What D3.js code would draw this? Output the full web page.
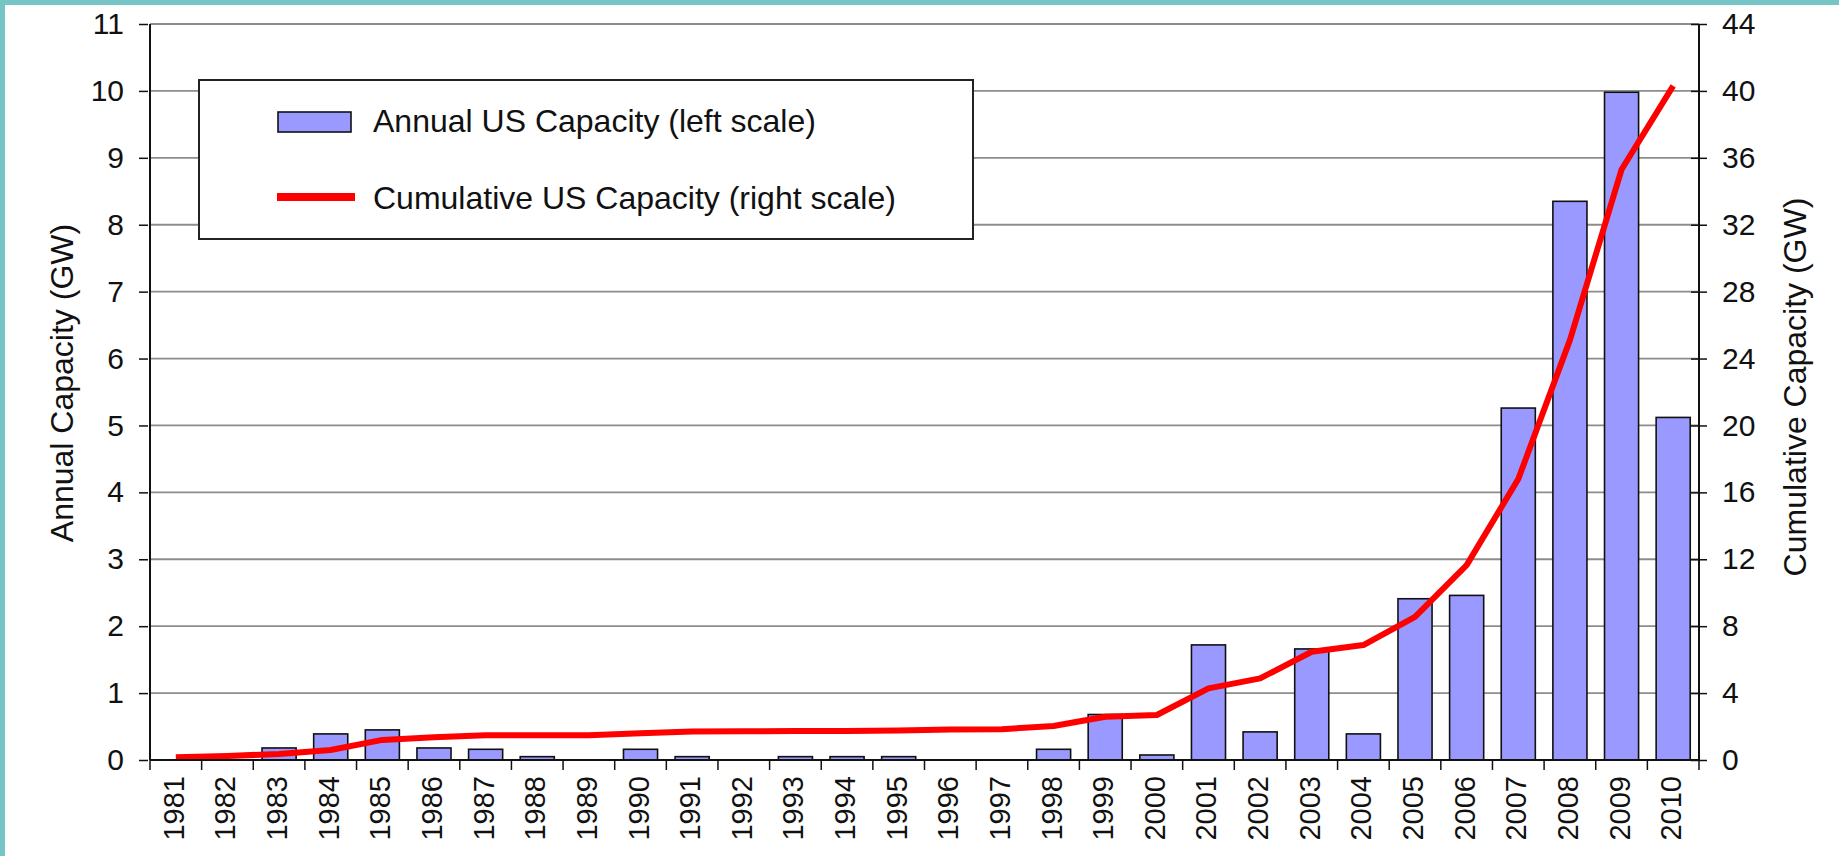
<!DOCTYPE html>
<html>
<head>
<meta charset="utf-8">
<script src="https://cdn.jsdelivr.net/npm/d3@7"></script>
<style>
  html, body { margin: 0; padding: 0; background: #fff; }
  svg { display: block; font-family: "Liberation Sans", Arial, sans-serif; }
</style>
</head>
<body>
<svg></svg>
<script>
var width = 1839;
var height = 856;

// data
var years = ['1981', '1982', '1983', '1984', '1985', '1986', '1987', '1988', '1989', '1990',
             '1991', '1992', '1993', '1994', '1995', '1996', '1997', '1998', '1999', '2000',
             '2001', '2002', '2003', '2004', '2005', '2006', '2007', '2008', '2009', '2010'];
var annual = [0, 0, 0.18, 0.39, 0.45, 0.18, 0.16, 0.05, 0, 0.16,
              0.05, 0, 0.05, 0.05, 0.05, 0, 0, 0.16, 0.68, 0.075,
              1.72, 0.42, 1.66, 0.39, 2.41, 2.46, 5.26, 8.35, 9.98, 5.12];
var cumulative = [0.16, 0.24, 0.36, 0.6, 1.2, 1.36, 1.48, 1.48, 1.48, 1.6,
                  1.7, 1.72, 1.73, 1.74, 1.76, 1.82, 1.84, 2.03, 2.59, 2.69,
                  4.28, 4.88, 6.47, 6.87, 8.56, 11.65, 16.8, 25.1, 35.3, 40.3];
var leftTicks = [0, 1, 2, 3, 4, 5, 6, 7, 8, 9, 10, 11];
var rightTicks = [0, 4, 8, 12, 16, 20, 24, 28, 32, 36, 40, 44];
var legendLabels = ['Annual US Capacity (left scale)', 'Cumulative US Capacity (right scale)'];

var rows = years.map((y, i) => ({year: y, annual: annual[i], cum: cumulative[i]}));

var plotLeft = 150, plotRight = 1699, plotTop = 24, plotBottom = 760;

var x = d3.scaleBand()
          .domain(years)
          .range([plotLeft, plotRight])
          .paddingInner(0.34)
          .paddingOuter(0.17);
var yLeft = d3.scaleLinear().domain([0, 11]).range([plotBottom, plotTop]);
var yRight = d3.scaleLinear().domain([0, 44]).range([plotBottom, plotTop]);

var svg = d3.select('svg')
            .attr('width', width)
            .attr('height', height);

svg.append('rect').attr('width', width).attr('height', height).attr('fill', '#fff');

// teal frame on top and left
svg.append('rect').attr('x', 0).attr('y', 0).attr('width', width).attr('height', 5).attr('fill', '#76c5c6');
svg.append('rect').attr('x', 0).attr('y', 0).attr('width', 5).attr('height', height).attr('fill', '#76c5c6');

// gridlines
svg.append('g')
    .selectAll('line')
    .data(leftTicks.filter(d => d > 0))
    .enter()
    .append('line')
        .attr('x1', plotLeft)
        .attr('x2', plotRight)
        .attr('y1', d => yLeft(d))
        .attr('y2', d => yLeft(d))
        .attr('stroke', '#8c8c8c')
        .attr('stroke-width', 1.8);

// bars
svg.append('g')
    .selectAll('rect')
    .data(rows.filter(d => d.annual > 0))
    .enter()
    .append('rect')
        .attr('x', d => x(d.year))
        .attr('width', x.bandwidth())
        .attr('y', d => yLeft(d.annual))
        .attr('height', d => yLeft(0) - yLeft(d.annual))
        .attr('fill', '#9999ff')
        .attr('stroke', '#111')
        .attr('stroke-width', 1.6);

// cumulative line
var line = d3.line()
             .x(d => x(d.year) + x.bandwidth() / 2)
             .y(d => yRight(d.cum));
svg.append('path')
    .datum(rows)
    .attr('d', line)
    .attr('fill', 'none')
    .attr('stroke', '#ff0000')
    .attr('stroke-width', 6)
    .attr('stroke-linejoin', 'round');

// left axis
var leftAxis = svg.append('g')
    .attr('transform', `translate(${plotLeft},0)`)
    .call(d3.axisLeft(yLeft).tickValues(leftTicks).tickSize(10).tickPadding(16));
leftAxis.select('.domain').attr('stroke', '#111').attr('stroke-width', 2).attr('d', `M0,${plotTop}V${plotBottom}`);
leftAxis.selectAll('.tick line').attr('stroke', '#111').attr('stroke-width', 1.5).attr('x2', -2).attr('x1', -11);
leftAxis.selectAll('.tick text').style('font-size', '30px').attr('fill', '#111');

// right axis
var rightAxis = svg.append('g')
    .attr('transform', `translate(${plotRight},0)`)
    .call(d3.axisRight(yRight).tickValues(rightTicks).tickSize(8).tickPadding(15));
rightAxis.select('.domain').attr('stroke', '#111').attr('stroke-width', 2).attr('d', `M0,${plotTop}V${plotBottom}`);
rightAxis.selectAll('.tick line').attr('stroke', '#111').attr('stroke-width', 1.5).attr('x1', -8);
rightAxis.selectAll('.tick text').style('font-size', '30px').attr('fill', '#111');

// bottom axis
svg.append('line')
    .attr('x1', plotLeft).attr('x2', plotRight)
    .attr('y1', plotBottom).attr('y2', plotBottom)
    .attr('stroke', '#111').attr('stroke-width', 2);

var edge = d => x(d) - x.step() * x.paddingInner() / 2;
svg.append('g')
    .selectAll('line')
    .data(years.concat(['end']))
    .enter()
    .append('line')
        .attr('x1', (d, i) => i < years.length ? edge(d) : plotRight)
        .attr('x2', (d, i) => i < years.length ? edge(d) : plotRight)
        .attr('y1', plotBottom)
        .attr('y2', plotBottom + 10)
        .attr('stroke', '#111')
        .attr('stroke-width', 1.5);

svg.append('g')
    .selectAll('text')
    .data(years)
    .enter()
    .append('text')
        .attr('transform', d => `translate(${x(d) + x.bandwidth() / 2},776) rotate(-90)`)
        .attr('y', 8)
        .attr('text-anchor', 'end')
        .style('font-size', '29px')
        .attr('fill', '#111')
        .text(d => d);

// axis titles
svg.append('text')
    .attr('transform', 'translate(73,383) rotate(-90)')
    .attr('text-anchor', 'middle')
    .style('font-size', '32px')
    .attr('fill', '#111')
    .text('Annual Capacity (GW)');

svg.append('text')
    .attr('transform', 'translate(1806,387) rotate(-90)')
    .attr('text-anchor', 'middle')
    .style('font-size', '32px')
    .attr('fill', '#111')
    .text('Cumulative Capacity (GW)');

// legend
var legend = svg.append('g');
legend.append('rect')
    .attr('x', 199).attr('y', 80)
    .attr('width', 774).attr('height', 159)
    .attr('fill', '#fff')
    .attr('stroke', '#222')
    .attr('stroke-width', 2);
legend.append('rect')
    .attr('x', 278).attr('y', 112)
    .attr('width', 73).attr('height', 20)
    .attr('fill', '#9999ff')
    .attr('stroke', '#111')
    .attr('stroke-width', 1.6);
legend.append('line')
    .attr('x1', 277).attr('x2', 355)
    .attr('y1', 197).attr('y2', 197)
    .attr('stroke', '#ff0000')
    .attr('stroke-width', 8);
legend.selectAll('.label')
    .data(legendLabels)
    .enter()
    .append('text')
        .classed('label', true)
        .attr('x', 373)
        .attr('y', (d, i) => i === 0 ? 132 : 209)
        .style('font-size', '32px')
        .attr('fill', '#111')
        .text(d => d);
</script>
</body>
</html>
